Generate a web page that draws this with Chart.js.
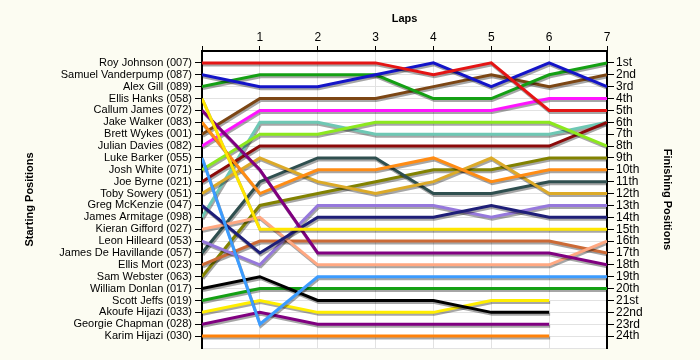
<!DOCTYPE html>
<html>
<head>
<meta charset="utf-8">
<title>Lap chart</title>
<script src="https://cdn.jsdelivr.net/npm/chart.js@4.4.1/dist/chart.umd.min.js"></script>
<style>
  html, body { margin: 0; padding: 0; background: #fcfcf2; }
  canvas { display: block; }
</style>
</head>
<body>
<canvas id="lapChart" width="700" height="360"></canvas>
<script>
// tick labels
const lapTicks = ["1", "2", "3", "4", "5", "6", "7"];
const startingGrid = [
  "Roy Johnson (007)", "Samuel Vanderpump (087)", "Alex Gill (089)", "Ellis Hanks (058)",
  "Callum James (072)", "Jake Walker (083)", "Brett Wykes (001)", "Julian Davies (082)",
  "Luke Barker (055)", "Josh White (071)", "Joe Byrne (021)", "Toby Sowery (051)",
  "Greg McKenzie (047)", "James Armitage (098)", "Kieran Gifford (027)", "Leon Hilleard (053)",
  "James De Havillande (057)", "Ellis Mort (023)", "Sam Webster (063)", "William Donlan (017)",
  "Scott Jeffs (019)", "Akoufe Hijazi (033)", "Georgie Chapman (028)", "Karim Hijazi (030)",
];
const finishLabels = [
  "1st", "2nd", "3rd", "4th", "5th", "6th", "7th", "8th", "9th", "10th", "11th", "12th",
  "13th", "14th", "15th", "16th", "17th", "18th", "19th", "20th", "21st", "22nd", "23rd", "24th",
];

// position at the start (lap 0) and after each lap
const royJohnson = [1, 1, 1, 1, 2, 1, 5, 5];
const samuelVanderpump = [2, 3, 3, 2, 1, 3, 1, 3];
const alexGill = [3, 2, 2, 2, 4, 4, 2, 1];
const ellisHanks = [4, 15, 15, 15, 15, 15, 15, 15];
const callumJames = [5, 10, 17, 17, 17, 17, 17, 18];
const jakeWalker = [6, 12, 10, 10, 9, 11, 10, 10];
const brettWykes = [7, 4, 4, 4, 3, 2, 3, 2];
const julianDavies = [8, 5, 5, 5, 5, 5, 4, 4];
const lukeBarker = [9, 23, 19, 19, 19, 19, 19, 19];
const joshWhite = [10, 7, 7, 6, 6, 6, 6, 8];
const joeByrne = [11, 8, 8, 8, 8, 8, 8, 6];
const tobySowery = [12, 9, 11, 12, 11, 9, 12, 12];
const gregMcKenzie = [13, 17, 14, 14, 14, 13, 14, 14];
const jamesArmitage = [14, 6, 6, 7, 7, 7, 7, 6];
const kieranGifford = [15, 14, 18, 18, 18, 18, 18, 16];
const leonHilleard = [16, 18, 13, 13, 13, 14, 13, 13];
const jamesDeHavillande = [17, 11, 9, 9, 12, 12, 11, 11];
const ellisMort = [18, 16, 16, 16, 16, 16, 16, 17];
const samWebster = [19, 13, 12, 11, 10, 10, 9, 9];
const williamDonlan = [20, 19, 21, 21, 21, 22, 22, null];
const scottJeffs = [21, 20, 20, 20, 20, 20, 20, 20];
const akoufeHijazi = [22, 21, 22, 22, 22, 21, 21, null];
const georgieChapman = [23, 22, 23, 23, 23, 23, 23, null];
const karimHijazi = [24, 24, 24, 24, 24, 24, 24, null];

const series = [
  royJohnson, samuelVanderpump, alexGill, ellisHanks, callumJames, jakeWalker,
  brettWykes, julianDavies, lukeBarker, joshWhite, joeByrne, tobySowery,
  gregMcKenzie, jamesArmitage, kieranGifford, leonHilleard, jamesDeHavillande, ellisMort,
  samWebster, williamDonlan, scottJeffs, akoufeHijazi, georgieChapman, karimHijazi,
];

const palette = [
  "#e41414", "#1414c8", "#14a014", "#ffe600", "#800080", "#ff8c14",
  "#7c4614", "#ff14ff", "#3c9cff", "#8ce81e", "#8c0a0a", "#dcaa28",
  "#1e1e78", "#6ec8b4", "#ffa882", "#9678dc", "#2f4f4f", "#cc6a36",
  "#828200", "#000000", "#14a014", "#ffee00", "#800080", "#ff820a",
];

const gridGray = "#e2e2e2";
const font = "'Liberation Sans', Arial, sans-serif";

function posTicks(scale) {
  scale.ticks = [];
  for (let v = 0; v <= 25; v++) scale.ticks.push({ value: v });
}

const lineEffects = {
  id: "lineEffects",
  beforeDraw(chart) {
    const { ctx, chartArea: a } = chart;
    ctx.save();
    ctx.fillStyle = "#fcfcf2";
    ctx.fillRect(0, 0, chart.width, chart.height);
    ctx.fillStyle = "#ffffff";
    ctx.fillRect(a.left, a.top, a.right - a.left, a.bottom - a.top);
    ctx.restore();
  },
  beforeDatasetsDraw(chart) {
    const ctx = chart.ctx;
    ctx.save();
    ctx.shadowColor = "rgba(0,0,0,0.35)";
    ctx.shadowOffsetX = 1;
    ctx.shadowOffsetY = 2;
    ctx.shadowBlur = 0;
  },
  afterDatasetsDraw(chart) {
    chart.ctx.restore();
  },
};

function drawLapChart() {
  const datasets = series.map((positions, i) => ({
    label: startingGrid[i],
    data: positions
      .map((p, lap) => ({ x: lap, y: p }))
      .filter((pt) => pt.y !== null),
    borderColor: palette[i],
    borderWidth: 3,
    pointRadius: 0,
    tension: 0,
    fill: false,
  }));

  new Chart(document.getElementById("lapChart"), {
    type: "line",
    data: { datasets },
    plugins: [lineEffects],
    options: {
      responsive: false,
      animation: false,
      devicePixelRatio: 1,
      layout: { padding: { top: 0, left: 0, right: 0, bottom: 12 } },
      plugins: { legend: { display: false }, tooltip: { enabled: false } },
      scales: {
        x: {
          type: "linear",
          position: "top",
          min: 0,
          max: 7,
          afterBuildTicks: (s) => {
            s.ticks = [];
            for (let v = 0; v <= 7; v++) s.ticks.push({ value: v });
          },
          afterFit: (s) => { s.height = 51; },
          ticks: {
            color: "#000",
            font: { family: font, size: 12 },
            padding: 1,
            callback: (v) => (v === 0 ? "" : lapTicks[v - 1]),
          },
          grid: { color: gridGray, tickColor: "#000", tickLength: 5, tickWidth: 1 },
          border: { color: "#000", width: 2 },
          title: {
            display: true,
            text: "Laps",
            color: "#000",
            font: { family: font, size: 11, weight: "bold" },
            padding: { top: 12, bottom: 0 },
          },
        },
        y: {
          type: "linear",
          position: "left",
          reverse: true,
          min: 0,
          max: 25,
          afterBuildTicks: posTicks,
          afterFit: (s) => { s.width = 202; },
          ticks: {
            color: "#000",
            autoSkip: false,
            font: { family: font, size: 11 },
            padding: 3,
            callback: (v) => (v >= 1 && v <= 24 ? startingGrid[v - 1] : ""),
          },
          grid: {
            color: gridGray,
            tickLength: 7,
            tickWidth: 1,
            tickColor: (c) => (c.tick && c.tick.value >= 1 && c.tick.value <= 24 ? "#000" : "rgba(0,0,0,0)"),
          },
          border: { color: "#000", width: 2 },
          title: {
            display: true,
            text: "Starting Positions",
            color: "#000",
            font: { family: font, size: 11, weight: "bold" },
            padding: { top: 23, bottom: 0 },
          },
        },
        y2: {
          type: "linear",
          position: "right",
          reverse: true,
          min: 0,
          max: 25,
          afterBuildTicks: posTicks,
          afterFit: (s) => { s.width = 93; },
          ticks: {
            color: "#000",
            autoSkip: false,
            font: { family: font, size: 12 },
            padding: 2,
            callback: (v) => (v >= 1 && v <= 24 ? finishLabels[v - 1] : ""),
          },
          grid: {
            drawOnChartArea: false,
            tickLength: 7,
            tickWidth: 1,
            tickColor: (c) => (c.tick && c.tick.value >= 1 && c.tick.value <= 24 ? "#000" : "rgba(0,0,0,0)"),
          },
          border: { color: "#000", width: 2 },
          title: {
            display: true,
            text: "Finishing Positions",
            color: "#000",
            font: { family: font, size: 11, weight: "bold" },
            padding: { top: 26, bottom: 0 },
          },
        },
      },
    },
  });
}

window.addEventListener("load", () => {
  drawLapChart();
});
</script>
</body>
</html>
